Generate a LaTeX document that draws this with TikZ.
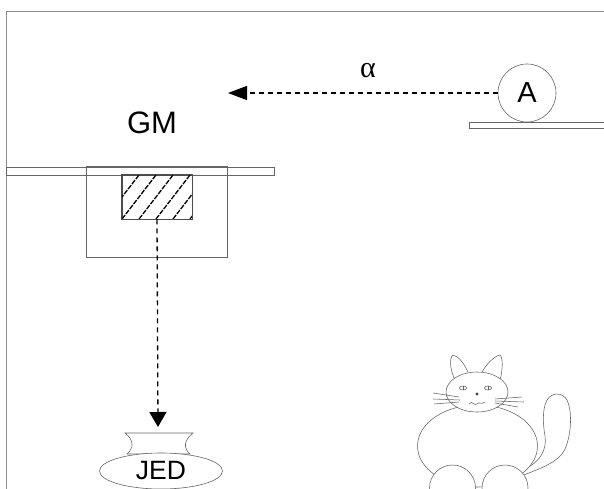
\documentclass[tikz,border=0pt]{standalone}
\usepackage{fontspec}
\setmainfont{Liberation Sans}
\newfontfamily\greekfont{Liberation Serif}
\usetikzlibrary{arrows.meta,shapes.geometric}
\begin{document}
\begin{tikzpicture}[x=1pt,y=-1pt,
  frameline/.style={draw=black!45, line width=0.8pt},
  thinline/.style={draw=black!60, line width=0.6pt},
  catline/.style={draw=black!62, line width=0.55pt},
  flow/.style={draw=black, line width=1.3pt, dash pattern=on 5pt off 4pt},
  hatchline/.style={draw=black, line width=1.3pt, dash pattern=on 5pt off 1.3pt},
  bigtext/.style={inner sep=0pt, font=\fontsize{31}{31}\selectfont}]
\useasboundingbox (0,0) rectangle (604,489);

% outer frame
\draw[frameline] (6,489) -- (6,11) -- (610,11);

% source A on its shelf
\draw[thinline] (469,122) rectangle (612,128);
\node[circle, thinline, fill=white, minimum size=58pt, inner sep=0pt,
      font=\fontsize{29}{29}\selectfont] (A) at (527,93) {A};
\coordinate (alphatip) at (228,93);
\draw[flow, -{Triangle[length=19pt,width=14pt]}] (A.west) -- (alphatip);
\node[inner sep=0pt, font=\greekfont\fontsize{30}{30}\selectfont] (alpha) at (368,71) {α};

% GM holder
\node[bigtext] (gm) at (152,123) {GM};
\draw[thinline] (6,167) rectangle (274,175);
\draw[thinline] (86,166) rectangle (227,257);
\node[draw=black!70, line width=0.6pt, minimum width=70pt, minimum height=44pt,
      inner sep=0pt, fill=white] (sample) at (157,197) {};
\begin{scope}
  \clip (sample.south west) rectangle (sample.north east);
  \foreach \x in {88,105,122,139,156,173,190}
    \draw[hatchline] (\x,219) -- ++(34,-44);
\end{scope}
\draw[draw=black!70, line width=0.6pt] (sample.south west) rectangle (sample.north east);

% flow down to the jar
\coordinate (jartip) at (158,427);
\draw[flow, -{Triangle[length=15pt,width=17pt]}] (sample.south) -- (jartip);

% jar JED
\draw[thinline] (125,433) -- (193,433)
  .. controls (184,440) and (183,448) .. (190,454)
  -- (127,454)
  .. controls (134,448) and (134,440) .. (125,433) -- cycle;
\node[ellipse, thinline, fill=white, minimum width=123pt, minimum height=36pt,
      inner sep=0pt, font=\fontsize{26.5}{26.5}\selectfont] (jed) at (161,471) {JED};

% cat
\draw[catline] (519,477)
  .. controls (535,470) and (558,464) .. (565,449)
  .. controls (572,433) and (572,410) .. (567,400)
  .. controls (562,392) and (552,392) .. (547,400)
  .. controls (542,409) and (543,425) .. (545,436)
  .. controls (547,450) and (540,461) .. (527,468);
\draw[catline, fill=white] (477.5,446) ellipse [x radius=60, y radius=41];
\draw[catline, fill=white] (452.5,488) circle [radius=23];
\draw[catline, fill=white] (505,488) circle [radius=23];
\draw[catline] (455,380) .. controls (450,370) and (449,358) .. (453,355)
  .. controls (458,356) and (464,363) .. (468,372);
\draw[catline] (482,372) .. controls (487,363) and (495,356) .. (500,355)
  .. controls (503,358) and (503,369) .. (500,380);
\draw[catline, fill=white] (477,392) ellipse [x radius=31, y radius=20];
% eyes, nose and mouth
\foreach \ex in {463,488} {
  \draw[catline] (\ex,388) ellipse [x radius=3.6, y radius=2];
  \draw[catline] (\ex,386) -- (\ex,390);
}
\fill[black!75] (477,394) circle [radius=1.6];
\draw[catline] (469,404) .. controls (471,402) and (472,402) .. (474,404)
  .. controls (476,406) and (478,402) .. (480,403)
  .. controls (482,404) and (483,403) .. (485,402);
% whiskers
\draw[catline] (433,393) -- (459,397);
\draw[catline] (433,399) -- (460,400);
\draw[catline] (434,404) -- (459,402);
\draw[catline] (495,399) -- (522,397);
\draw[catline] (495,401) -- (524,402);
\draw[catline] (495,403) -- (518,407);
\end{tikzpicture}
\end{document}
